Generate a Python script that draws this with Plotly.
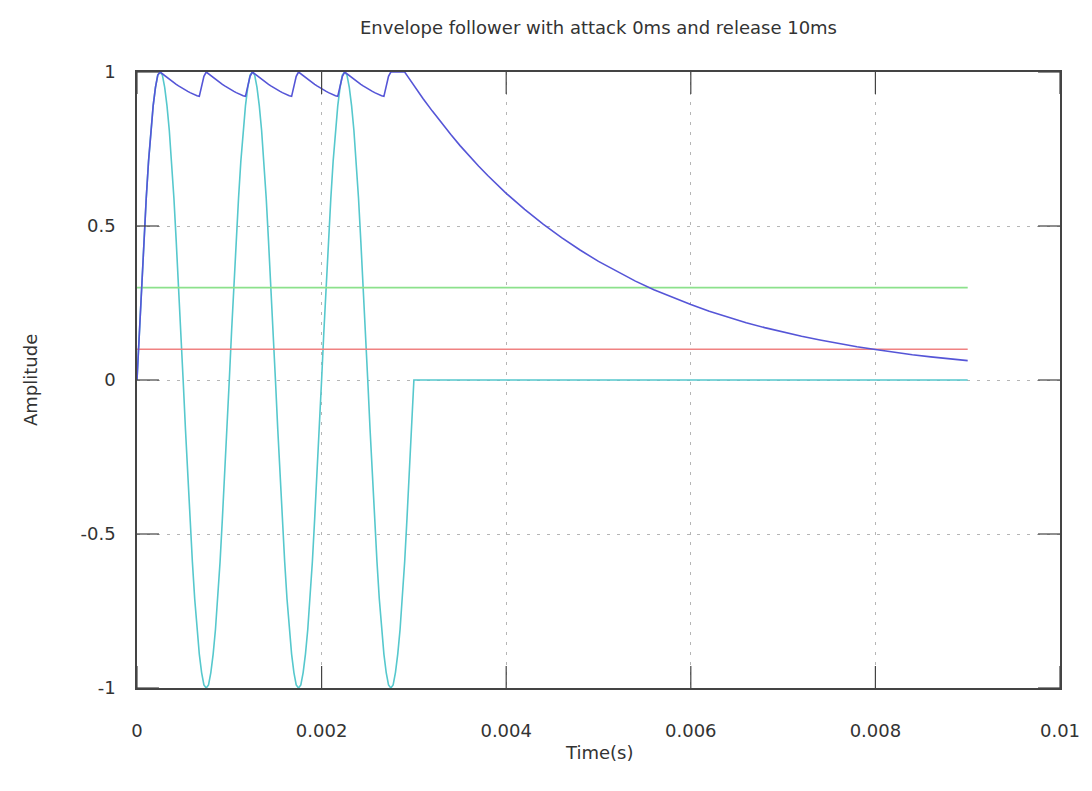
import plotly.graph_objects as go

# ---------------- data ----------------
# oscillator section sample times, microseconds
t_osc_us = [
    0, 25, 50, 75, 100, 125, 150, 175, 200, 225,
    250, 275, 300, 325, 350, 375, 400, 425, 450, 475,
    500, 525, 550, 575, 600, 625, 650, 675, 700, 725,
    750, 775, 800, 825, 850, 875, 900, 925, 950, 975,
    1000, 1025, 1050, 1075, 1100, 1125, 1150, 1175, 1200, 1225,
    1250, 1275, 1300, 1325, 1350, 1375, 1400, 1425, 1450, 1475,
    1500, 1525, 1550, 1575, 1600, 1625, 1650, 1675, 1700, 1725,
    1750, 1775, 1800, 1825, 1850, 1875, 1900, 1925, 1950, 1975,
    2000, 2025, 2050, 2075, 2100, 2125, 2150, 2175, 2200, 2225,
    2250, 2275, 2300, 2325, 2350, 2375, 2400, 2425, 2450, 2475,
    2500, 2525, 2550, 2575, 2600, 2625, 2650, 2675, 2700, 2725,
    2750, 2775, 2800, 2825, 2850, 2875, 2900, 2925, 2950, 2975,
    3000,
]

signal_osc = [
    0.00, 0.16, 0.31, 0.45, 0.59, 0.71, 0.81, 0.89, 0.95, 0.99,
    1.00, 0.99, 0.95, 0.89, 0.81, 0.71, 0.59, 0.45, 0.31, 0.16,
    0.00, -0.16, -0.31, -0.45, -0.59, -0.71, -0.81, -0.89, -0.95, -0.99,
    -1.00, -0.99, -0.95, -0.89, -0.81, -0.71, -0.59, -0.45, -0.31, -0.16,
    0.00, 0.16, 0.31, 0.45, 0.59, 0.71, 0.81, 0.89, 0.95, 0.99,
    1.00, 0.99, 0.95, 0.89, 0.81, 0.71, 0.59, 0.45, 0.31, 0.16,
    0.00, -0.16, -0.31, -0.45, -0.59, -0.71, -0.81, -0.89, -0.95, -0.99,
    -1.00, -0.99, -0.95, -0.89, -0.81, -0.71, -0.59, -0.45, -0.31, -0.16,
    0.00, 0.16, 0.31, 0.45, 0.59, 0.71, 0.81, 0.89, 0.95, 0.99,
    1.00, 0.99, 0.95, 0.89, 0.81, 0.71, 0.59, 0.45, 0.31, 0.16,
    0.00, -0.16, -0.31, -0.45, -0.59, -0.71, -0.81, -0.89, -0.95, -0.99,
    -1.00, -0.99, -0.95, -0.89, -0.81, -0.71, -0.59, -0.45, -0.31, -0.16,
    0.00,
]

# silent part of the signal after the burst
t_silence_us = [9000]
signal_silence = [0.00]

envelope_osc = [
    0.00, 0.16, 0.31, 0.45, 0.59, 0.71, 0.81, 0.89, 0.95, 0.99, 1.00,
    0.994, 0.988, 0.982, 0.976, 0.970, 0.965, 0.960, 0.955, 0.950, 0.946,
    0.941, 0.937, 0.933, 0.929, 0.926, 0.923, 0.921, 0.950, 0.986, 1.000,
    0.994, 0.988, 0.982, 0.976, 0.970, 0.965, 0.960, 0.955, 0.950, 0.946,
    0.941, 0.937, 0.933, 0.929, 0.926, 0.923, 0.921, 0.950, 0.986, 1.000,
    0.994, 0.988, 0.982, 0.976, 0.970, 0.965, 0.960, 0.955, 0.950, 0.946,
    0.941, 0.937, 0.933, 0.929, 0.926, 0.923, 0.921, 0.950, 0.986, 1.000,
    0.994, 0.988, 0.982, 0.976, 0.970, 0.965, 0.960, 0.955, 0.950, 0.946,
    0.941, 0.937, 0.933, 0.929, 0.926, 0.923, 0.921, 0.950, 0.986, 1.000,
    0.994, 0.988, 0.982, 0.976, 0.970, 0.965, 0.960, 0.955, 0.950, 0.946,
    0.941, 0.937, 0.933, 0.929, 0.926, 0.923, 0.921, 0.950, 0.986, 1.000,
    1.000, 1.000, 1.000, 1.000, 1.000, 1.000,
    0.989, 0.978, 0.967, 0.956,
]

t_release_us = [
    3100, 3200, 3300, 3400, 3500, 3600, 3700, 3800, 3900, 4000,
    4200, 4400, 4600, 4800, 5000, 5200, 5400, 5600, 5800, 6000,
    6200, 6400, 6600, 6800, 7000, 7200, 7400, 7600, 7800, 8000,
    8200, 8400, 8600, 8800, 9000,
]
envelope_release = [
    0.913, 0.873, 0.834, 0.797, 0.761, 0.727, 0.695, 0.664, 0.635, 0.606,
    0.554, 0.506, 0.462, 0.422, 0.385, 0.352, 0.321, 0.293, 0.268, 0.245,
    0.223, 0.204, 0.186, 0.170, 0.155, 0.142, 0.130, 0.118, 0.108, 0.099,
    0.090, 0.082, 0.075, 0.069, 0.063,
]

t_threshold_us = [0, 9000]
threshold_high = [0.3, 0.3]
threshold_low = [0.1, 0.1]

x_tickvals = [0, 0.002, 0.004, 0.006, 0.008, 0.01]
x_ticktext = ["0", "0.002", "0.004", "0.006", "0.008", "0.01"]
y_tickvals = [-1, -0.5, 0, 0.5, 1]
y_ticktext = ["-1", "-0.5", "0", "0.5", "1"]

title_text = "Envelope follower with attack 0ms and release 10ms"
x_title = "Time(s)"
y_title = "Amplitude"

# ---------------- figure ----------------
def us_to_s(lst):
    return [v / 1e6 for v in lst]

FONT = "DejaVu Sans"
TXT = "#333333"
FRAME = "#444444"
PLOT_W = 1092 - 137 - 30
PLOT_H = 791 - 72 - 103
TICK_PX = 22

fig = go.Figure()
fig.add_trace(go.Scatter(
    x=us_to_s(t_osc_us + t_silence_us), y=signal_osc + signal_silence,
    mode="lines", line=dict(color="rgb(86,200,205)", width=1.6),
    name="signal", showlegend=False))
fig.add_trace(go.Scatter(
    x=us_to_s(t_threshold_us), y=threshold_high,
    mode="lines", line=dict(color="rgb(140,225,140)", width=1.8),
    name="high", showlegend=False))
fig.add_trace(go.Scatter(
    x=us_to_s(t_threshold_us), y=threshold_low,
    mode="lines", line=dict(color="rgb(240,130,130)", width=1.6),
    name="low", showlegend=False))
fig.add_trace(go.Scatter(
    x=us_to_s(t_osc_us + t_release_us), y=envelope_osc + envelope_release,
    mode="lines", line=dict(color="rgb(85,85,215)", width=1.6),
    name="envelope", showlegend=False))

axis_common = dict(
    showline=True, linecolor=FRAME, linewidth=1.6, mirror=True,
    ticks="", showgrid=True, gridcolor="#b5b5b5", gridwidth=1,
    griddash="3px,7px", zeroline=False,
    tickfont=dict(family=FONT, size=18, color=TXT),
)

fig.update_xaxes(range=[0, 0.01], tickvals=x_tickvals, ticktext=x_ticktext,
                 ticklabelstandoff=26, **axis_common)
fig.update_yaxes(range=[-1, 1], tickvals=y_tickvals, ticktext=y_ticktext,
                 ticklabelstandoff=16, **axis_common)

# gnuplot-style inward tick marks on all four sides of the frame
shapes = []
fx = TICK_PX / PLOT_H
fy = TICK_PX / PLOT_W
for xv in x_tickvals:
    shapes.append(dict(type="line", xref="x", yref="paper", x0=xv, x1=xv,
                       y0=0, y1=fx, line=dict(color=FRAME, width=1.2)))
    shapes.append(dict(type="line", xref="x", yref="paper", x0=xv, x1=xv,
                       y0=1, y1=1 - fx, line=dict(color=FRAME, width=1.2)))
for yv in y_tickvals:
    shapes.append(dict(type="line", xref="paper", yref="y", x0=0, x1=fy,
                       y0=yv, y1=yv, line=dict(color=FRAME, width=1.2)))
    shapes.append(dict(type="line", xref="paper", yref="y", x0=1, x1=1 - fy,
                       y0=yv, y1=yv, line=dict(color=FRAME, width=1.2)))

fig.update_layout(
    width=1092, height=791,
    margin=dict(l=137, r=30, t=72, b=103, pad=0),
    paper_bgcolor="white", plot_bgcolor="white",
    showlegend=False,
    shapes=shapes,
    annotations=[
        dict(text=title_text, xref="paper", yref="paper", x=0.5, y=1,
             xanchor="center", yanchor="middle", yshift=45, showarrow=False,
             font=dict(family=FONT, size=18, color=TXT)),
        dict(text=x_title, xref="paper", yref="paper", x=0.5, y=0,
             xanchor="center", yanchor="middle", yshift=-64, showarrow=False,
             font=dict(family=FONT, size=18, color=TXT)),
        dict(text=y_title, xref="paper", yref="paper", x=0, y=0.5,
             xanchor="center", yanchor="middle", xshift=-107, textangle=-90,
             showarrow=False, font=dict(family=FONT, size=18, color=TXT)),
    ],
)

fig.write_html("out.html")
